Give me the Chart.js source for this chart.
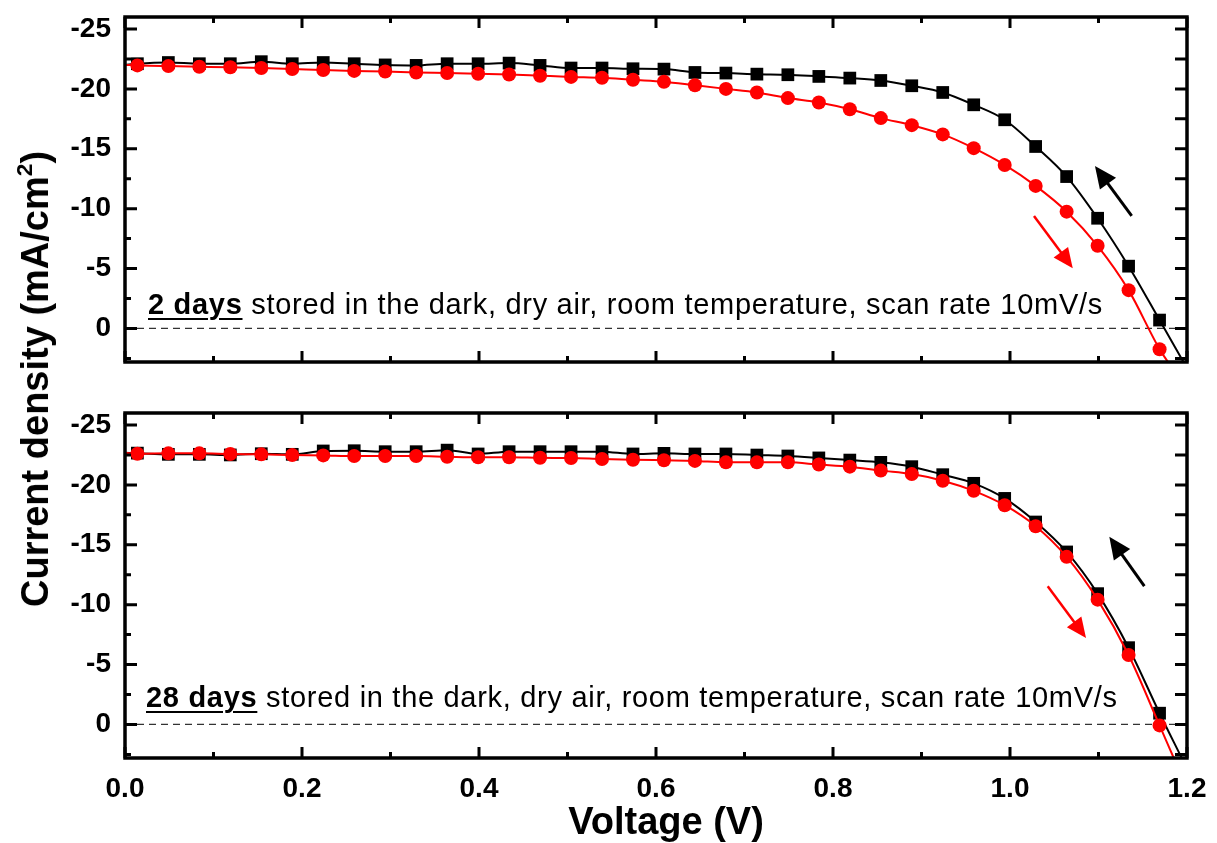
<!DOCTYPE html>
<html><head><meta charset="utf-8">
<script src="https://cdn.jsdelivr.net/npm/chart.js@4/dist/chart.umd.min.js"></script>
<style>
html,body{margin:0;padding:0;background:#fff;width:1217px;height:843px;overflow:hidden;font-family:Arial,"Liberation Sans",sans-serif;}
canvas{position:absolute;left:0;}
#c1{top:0px;} #c2{top:370px;}
.note{position:absolute;font-size:29px;letter-spacing:0.7px;color:#000;white-space:nowrap;line-height:1;}
.note u{font-weight:bold;text-decoration-thickness:2px;text-underline-offset:4px;}
#ytitle{position:absolute;left:35px;top:379px;transform:translate(-50%,-50%) rotate(-90deg);font-weight:bold;font-size:38px;white-space:nowrap;line-height:1;}
#ytitle sup{font-size:0.6em;vertical-align:0.7em;line-height:0;}
#xtitle{position:absolute;left:666px;top:821px;transform:translate(-50%,-50%);font-weight:bold;font-size:38px;white-space:nowrap;line-height:1;}
</style></head>
<body>
<canvas id="c1" width="1217" height="380"></canvas>
<canvas id="c2" width="1217" height="473"></canvas>
<div class="note" id="n1" style="left:148px;top:290px;"><u>2 days</u> stored in the dark, dry air, room temperature, scan rate 10mV/s</div>
<div class="note" id="n2" style="left:146px;top:683px;"><u>28 days</u> stored in the dark, dry air, room temperature, scan rate 10mV/s</div>
<div id="ytitle">Current density (mA/cm<sup>2</sup>)</div>
<div id="xtitle">Voltage (V)</div>
<script>
// ---- data (voltage in V, current density in mA/cm2) ----
const voltage = [0.014,0.049,0.084,0.119,0.154,0.189,0.224,0.259,0.294,0.329,0.364,0.399,0.434,0.469,0.504,0.539,0.574,0.609,0.644,0.679,0.714,0.749,0.784,0.819,0.854,0.889,0.924,0.959,0.994,1.029,1.064,1.099,1.134,1.169];
const day2Reverse = [-22.1,-22.2,-22.1,-22.1,-22.27,-22.1,-22.2,-22.1,-22.0,-21.96,-22.1,-22.1,-22.15,-21.96,-21.74,-21.74,-21.68,-21.65,-21.37,-21.32,-21.23,-21.18,-21.04,-20.9,-20.7,-20.26,-19.7,-18.67,-17.42,-15.19,-12.68,-9.2,-5.2,-0.7];
const day2Forward = [-21.96,-21.9,-21.85,-21.8,-21.74,-21.66,-21.57,-21.5,-21.45,-21.37,-21.32,-21.26,-21.2,-21.1,-21.0,-20.93,-20.76,-20.6,-20.3,-20.0,-19.7,-19.23,-18.86,-18.3,-17.56,-16.97,-16.2,-15.05,-13.65,-11.9,-9.75,-6.9,-3.2,1.73];
const day28Reverse = [-22.65,-22.55,-22.55,-22.5,-22.6,-22.55,-22.83,-22.85,-22.77,-22.77,-22.9,-22.58,-22.77,-22.77,-22.77,-22.77,-22.58,-22.63,-22.58,-22.58,-22.49,-22.41,-22.25,-22.07,-21.88,-21.52,-20.85,-20.13,-18.87,-16.9,-14.4,-10.92,-6.41,-0.94];
const day28Forward = [-22.6,-22.63,-22.63,-22.58,-22.55,-22.49,-22.46,-22.41,-22.41,-22.41,-22.35,-22.3,-22.3,-22.26,-22.24,-22.16,-22.1,-22.05,-22.0,-21.88,-21.88,-21.88,-21.7,-21.52,-21.19,-20.9,-20.35,-19.5,-18.3,-16.55,-13.99,-10.42,-5.8,0.08];
// curve start (J at V = 0) and the voltage where each curve leaves the frame at J = 2.8; [reverse, forward]
const day2StartJ = [-22.0, -22.0];
const day2EndV = [1.196, 1.1785];
const day28StartJ = [-22.68, -22.68];
const day28EndV = [1.194, 1.185];
const xTicks = [0, 0.2, 0.4, 0.6, 0.8, 1.0, 1.2];
const yTicks = [-25, -20, -15, -10, -5, 0];
const xRange = [0, 1.2];
const yRange = [-26, 2.8];
// scan-direction arrows: [tailV, tailJ, tipV, tipJ]
const day2Arrows = {reverse:[1.1375,-9.39,1.096,-13.57], forward:[1.0271,-9.39,1.0709,-5.02]};
const day28Arrows = {reverse:[1.1518,-11.54,1.1122,-15.66], forward:[1.0426,-11.54,1.0859,-7.22]};

function curve(vs, js, startJ, endV) {
  const pts = [{x: xRange[0], y: startJ}];
  vs.forEach((v, i) => pts.push({x: v, y: js[i]}));
  pts.push({x: endV, y: yRange[1]});
  return pts;
}

const frameTicks = {
  id: 'frameTicks',
  afterDraw(chart) {
    const {ctx, chartArea: a, scales} = chart;
    const xs = scales.x, ys = scales.y;
    ctx.save();
    ctx.strokeStyle = '#000';
    ctx.lineWidth = 3;
    ctx.lineCap = 'butt';
    ctx.beginPath();
    for (let i = 0; i < xTicks.length; i++) {
      const px = xs.getPixelForValue(xTicks[i]);
      ctx.moveTo(px, a.bottom); ctx.lineTo(px, a.bottom - 11);
      ctx.moveTo(px, a.top); ctx.lineTo(px, a.top + 11);
      if (i < xTicks.length - 1) {
        const mx = xs.getPixelForValue((xTicks[i] + xTicks[i + 1]) / 2);
        ctx.moveTo(mx, a.bottom); ctx.lineTo(mx, a.bottom - 6);
        ctx.moveTo(mx, a.top); ctx.lineTo(mx, a.top + 6);
      }
    }
    const step = yTicks[1] - yTicks[0];
    const ymin = [yTicks[0] - step / 2];
    for (let i = 0; i < yTicks.length; i++) ymin.push(yTicks[i] + step / 2);
    yTicks.forEach(v => {
      const py = ys.getPixelForValue(v);
      ctx.moveTo(a.left, py); ctx.lineTo(a.left + 12, py);
      ctx.moveTo(a.right, py); ctx.lineTo(a.right - 12, py);
    });
    ymin.forEach(v => {
      if (v < yRange[0] || v > yRange[1]) return;
      const py = ys.getPixelForValue(v);
      ctx.moveTo(a.left, py); ctx.lineTo(a.left + 6, py);
      ctx.moveTo(a.right, py); ctx.lineTo(a.right - 12, py);
    });
    ctx.stroke();
    ctx.lineWidth = 3.5;
    ctx.strokeRect(a.left, a.top, a.right - a.left, a.bottom - a.top);
    ctx.restore();
  }
};

const arrowPlugin = {
  id: 'scanArrows',
  afterDatasetsDraw(chart, args, opts) {
    const {ctx, scales} = chart;
    const list = [
      {p: opts.arrows.reverse, color: '#000', w: 3, head: 22, half: 10},
      {p: opts.arrows.forward, color: '#ff0000', w: 2.5, head: 20, half: 9}
    ];
    ctx.save();
    list.forEach(ar => {
      const x0 = scales.x.getPixelForValue(ar.p[0]), y0 = scales.y.getPixelForValue(ar.p[1]);
      const x1 = scales.x.getPixelForValue(ar.p[2]), y1 = scales.y.getPixelForValue(ar.p[3]);
      const ang = Math.atan2(y1 - y0, x1 - x0);
      const bx = x1 - ar.head * Math.cos(ang), by = y1 - ar.head * Math.sin(ang);
      ctx.strokeStyle = ar.color; ctx.fillStyle = ar.color; ctx.lineWidth = ar.w;
      ctx.beginPath(); ctx.moveTo(x0, y0); ctx.lineTo(bx + 2 * Math.cos(ang), by + 2 * Math.sin(ang)); ctx.stroke();
      ctx.beginPath();
      ctx.moveTo(x1, y1);
      ctx.lineTo(bx + ar.half * Math.sin(ang), by - ar.half * Math.cos(ang));
      ctx.lineTo(bx - ar.half * Math.sin(ang), by + ar.half * Math.cos(ang));
      ctx.closePath(); ctx.fill();
    });
    ctx.restore();
  }
};

function makeChart(id, rev, fwd, startJ, endV, arrows, showX, padTop, xAxisH) {
  const revPts = curve(voltage, rev, startJ[0], endV[0]);
  const fwdPts = curve(voltage, fwd, startJ[1], endV[1]);
  const hideEnds = (r, n) => ctx => (ctx.dataIndex === 0 || ctx.dataIndex === n - 1) ? 0 : r;
  return new Chart(document.getElementById(id), {
    type: 'line',
    data: {
      datasets: [
        {label: 'Forward scan', data: fwdPts, borderColor: '#ff0000', backgroundColor: '#ff0000',
         borderWidth: 2, pointStyle: 'circle', pointRadius: hideEnds(7, fwdPts.length),
         pointBorderWidth: 0, cubicInterpolationMode: 'monotone', order: 0},
        {label: 'Reverse scan', data: revPts, borderColor: '#000', backgroundColor: '#000',
         borderWidth: 2, pointStyle: 'rect', pointRadius: hideEnds(9, revPts.length),
         pointBorderWidth: 0, cubicInterpolationMode: 'monotone', order: 1},
        {label: 'zero', data: [{x: xRange[0], y: 0}, {x: xRange[1], y: 0}], borderColor: '#333',
         borderWidth: 1.3, borderDash: [7, 5], pointRadius: 0, order: 2}
      ]
    },
    options: {
      responsive: false, animation: false, devicePixelRatio: 1,
      layout: {padding: {left: 0, right: 30, top: padTop, bottom: 0}},
      plugins: {legend: {display: false}, tooltip: {enabled: false}, scanArrows: {arrows: arrows}},
      scales: {
        x: {
          type: 'linear', min: xRange[0], max: xRange[1],
          grid: {display: false, drawTicks: false}, border: {display: false},
          afterBuildTicks: s => { s.ticks = xTicks.map(v => ({value: v})); },
          afterFit: s => { s.height = xAxisH; s.paddingLeft = 0; s.paddingRight = 0; },
          ticks: {display: showX, padding: 14, color: '#000', maxRotation: 0,
                  font: {family: 'Arial, "Liberation Sans"', size: 28, weight: 'bold'},
                  callback: v => Number(v).toFixed(1)}
        },
        y: {
          type: 'linear', reverse: true, min: yRange[0], max: yRange[1],
          grid: {display: false, drawTicks: false}, border: {display: false},
          afterBuildTicks: s => { s.ticks = yTicks.map(v => ({value: v})); },
          afterFit: s => { s.width = 125; s.paddingTop = 0; s.paddingBottom = 0; },
          ticks: {padding: 14, color: '#000',
                  font: {family: 'Arial, "Liberation Sans"', size: 28, weight: 'bold'},
                  callback: v => String(v)}
        }
      }
    },
    plugins: [frameTicks, arrowPlugin]
  });
}

makeChart('c1', day2Reverse, day2Forward, day2StartJ, day2EndV, day2Arrows, false, 17, 18);
makeChart('c2', day28Reverse, day28Forward, day28StartJ, day28EndV, day28Arrows, true, 43, 85);
</script>
</body></html>
